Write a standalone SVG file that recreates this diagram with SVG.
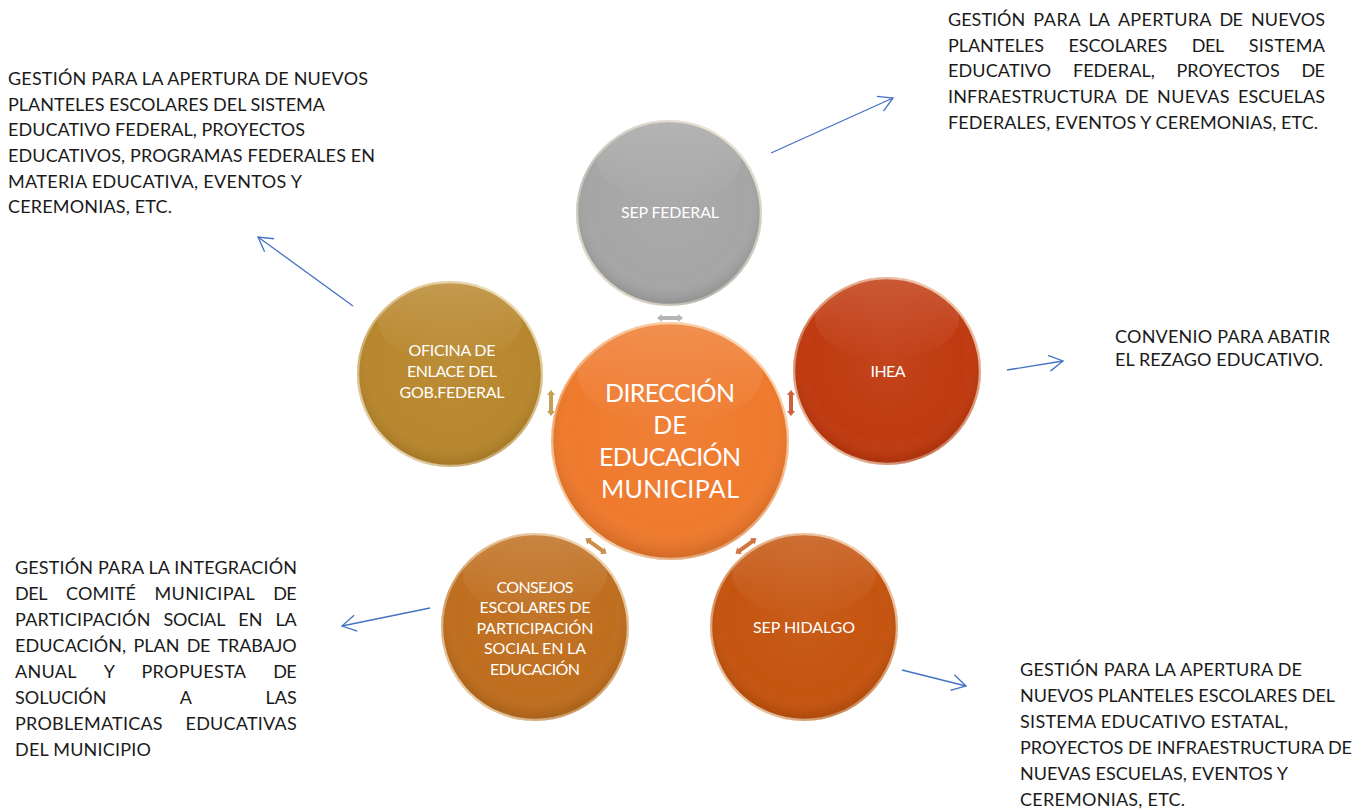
<svg xmlns="http://www.w3.org/2000/svg" width="1370" height="810" viewBox="0 0 1370 810">
<style>
.body{font-family:Lato,"Liberation Sans",sans-serif;font-size:18px;fill:#1a1a1a}
.lbl{font-family:Lato,"Liberation Sans",sans-serif;font-size:16px;fill:#ffffff;text-anchor:middle}
.big{font-family:Lato,"Liberation Sans",sans-serif;font-size:25px;fill:#ffffff;text-anchor:middle}
.arrow{fill:none;stroke:#4472C4;stroke-width:1.3;marker-end:url(#arr)}
.shade{fill:url(#shade)}
.hl{fill:url(#hl)}
.rim{fill:none;stroke:url(#rim);stroke-width:2.5}
</style>
<defs>
<marker id="arr" markerUnits="userSpaceOnUse" markerWidth="18" markerHeight="18" refX="16" refY="8" orient="auto" overflow="visible">
<path d="M2,0 L16,8 L2,16" fill="none" stroke="#4472C4" stroke-width="1.3"/>
</marker>
<radialGradient id="shade" cx="0.5" cy="0.45" r="0.55">
<stop offset="0" stop-color="#ffffff" stop-opacity="0.05"/>
<stop offset="0.75" stop-color="#ffffff" stop-opacity="0"/>
<stop offset="0.93" stop-color="#000000" stop-opacity="0.07"/>
<stop offset="1" stop-color="#000000" stop-opacity="0.14"/>
</radialGradient>
<linearGradient id="hl" x1="0" y1="0" x2="0" y2="1">
<stop offset="0" stop-color="#ffffff" stop-opacity="0.16"/>
<stop offset="1" stop-color="#ffffff" stop-opacity="0"/>
</linearGradient>
<linearGradient id="rim" x1="0" y1="1" x2="1" y2="0">
<stop offset="0" stop-color="#fff6e0" stop-opacity="0.95"/>
<stop offset="0.35" stop-color="#fff6e0" stop-opacity="0.35"/>
<stop offset="0.7" stop-color="#fff6e0" stop-opacity="0.55"/>
<stop offset="1" stop-color="#fff6e0" stop-opacity="0.85"/>
</linearGradient>
<polygon id="dbl" points="-13,0 -8,-4 -8,-2 8,-2 8,-4 13,0 8,4 8,2 -8,2 -8,4"/>
</defs>
<rect width="1370" height="810" fill="#ffffff"/>

<g id="connectors">
<line class="arrow" x1="771" y1="153" x2="893" y2="98"/>
<line class="arrow" x1="1007" y1="370" x2="1063" y2="361"/>
<line class="arrow" x1="353" y1="306" x2="258" y2="237"/>
<line class="arrow" x1="430" y1="608" x2="342" y2="626"/>
<line class="arrow" x1="902" y1="670" x2="966" y2="686"/>
<use href="#dbl" transform="translate(670,318)" fill="#a3a3a3" opacity="0.8"/>
<use href="#dbl" transform="translate(551,403) rotate(90)" fill="#b8872d" opacity="0.8"/>
<use href="#dbl" transform="translate(791,403) rotate(90)" fill="#c0390f" opacity="0.8"/>
<use href="#dbl" transform="translate(596,546) rotate(36)" fill="#c0701e" opacity="0.8"/>
<use href="#dbl" transform="translate(746,546) rotate(-36)" fill="#c5540f" opacity="0.8"/>
</g>

<g id="sep-federal">
<circle cx="669" cy="213" r="93" fill="#a6a6a6"/>
<circle class="shade" cx="669" cy="213" r="93"/>
<ellipse class="hl" cx="669" cy="160" rx="72" ry="42"/>
<circle class="rim" cx="669" cy="213" r="92"/>
<text class="lbl" x="670" y="218" textLength="98">SEP FEDERAL</text>
</g>

<g id="oficina-enlace">
<circle cx="450" cy="374" r="93" fill="#b8872d"/>
<circle class="shade" cx="450" cy="374" r="93"/>
<ellipse class="hl" cx="450" cy="321" rx="72" ry="42"/>
<circle class="rim" cx="450" cy="374" r="92"/>
<text class="lbl" x="452" y="356" textLength="87">OFICINA DE</text>
<text class="lbl" x="452" y="377" textLength="90">ENLACE DEL</text>
<text class="lbl" x="452" y="398" textLength="105">GOB.FEDERAL</text>
</g>

<g id="ihea">
<circle cx="887" cy="371" r="94" fill="#c03a10"/>
<circle class="shade" cx="887" cy="371" r="94"/>
<ellipse class="hl" cx="887" cy="318" rx="72" ry="42"/>
<circle class="rim" cx="887" cy="371" r="93"/>
<text class="lbl" x="888" y="377" textLength="35">IHEA</text>
</g>

<g id="consejos">
<circle cx="535" cy="627" r="94" fill="#bf6e1e"/>
<circle class="shade" cx="535" cy="627" r="94"/>
<ellipse class="hl" cx="535" cy="574" rx="72" ry="42"/>
<circle class="rim" cx="535" cy="627" r="93"/>
<text class="lbl" x="535" y="593" textLength="77">CONSEJOS</text>
<text class="lbl" x="535" y="613" textLength="111">ESCOLARES DE</text>
<text class="lbl" x="535" y="634" textLength="117">PARTICIPACIÓN</text>
<text class="lbl" x="535" y="654" textLength="102">SOCIAL EN LA</text>
<text class="lbl" x="535" y="675" textLength="90">EDUCACIÓN</text>
</g>

<g id="sep-hidalgo">
<circle cx="804" cy="627" r="94" fill="#c5540f"/>
<circle class="shade" cx="804" cy="627" r="94"/>
<ellipse class="hl" cx="804" cy="574" rx="72" ry="42"/>
<circle class="rim" cx="804" cy="627" r="93"/>
<text class="lbl" x="804" y="633" textLength="102">SEP HIDALGO</text>
</g>

<g id="direccion">
<circle cx="670" cy="441" r="119" fill="#ef7a2d"/>
<circle class="shade" cx="670" cy="441" r="119"/>
<ellipse class="hl" cx="670" cy="374" rx="92" ry="52"/>
<circle class="rim" cx="670" cy="441" r="118"/>
<text class="big" x="670" y="402" textLength="130">DIRECCIÓN</text>
<text class="big" x="670" y="434">DE</text>
<text class="big" x="670" y="466" textLength="142">EDUCACIÓN</text>
<text class="big" x="670" y="498" textLength="138">MUNICIPAL</text>
</g>

<g id="text-sep-federal">
<text class="body" x="948" y="26" textLength="77.3">GESTIÓN</text>
<text class="body" x="1033.3" y="26" textLength="47.3">PARA</text>
<text class="body" x="1088.6" y="26" textLength="21.3">LA</text>
<text class="body" x="1117.9" y="26" textLength="93.6">APERTURA</text>
<text class="body" x="1219.5" y="26" textLength="23.5">DE</text>
<text class="body" x="1251" y="26" textLength="74">NUEVOS</text>
<text class="body" x="948" y="52" textLength="96.1">PLANTELES</text>
<text class="body" x="1068.5" y="52" textLength="98.8">ESCOLARES</text>
<text class="body" x="1191.7" y="52" textLength="32.5">DEL</text>
<text class="body" x="1248.7" y="52" textLength="76.3">SISTEMA</text>
<text class="body" x="948" y="77" textLength="103.2">EDUCATIVO</text>
<text class="body" x="1072.9" y="77" textLength="81.9">FEDERAL,</text>
<text class="body" x="1176.5" y="77" textLength="103.2">PROYECTOS</text>
<text class="body" x="1301.5" y="77" textLength="23.5">DE</text>
<text class="body" x="948" y="103" textLength="168.6">INFRAESTRUCTURA</text>
<text class="body" x="1125.1" y="103" textLength="23.5">DE</text>
<text class="body" x="1157.1" y="103" textLength="72.4">NUEVAS</text>
<text class="body" x="1238" y="103" textLength="87">ESCUELAS</text>
<text class="body" x="948" y="129" textLength="370">FEDERALES, EVENTOS Y CEREMONIAS, ETC.</text>
</g>

<g id="text-oficina">
<text class="body" x="8" y="85" textLength="360">GESTIÓN PARA LA APERTURA DE NUEVOS</text>
<text class="body" x="8" y="110.7" textLength="317">PLANTELES ESCOLARES DEL SISTEMA</text>
<text class="body" x="8" y="136.3" textLength="297">EDUCATIVO FEDERAL, PROYECTOS</text>
<text class="body" x="8" y="162" textLength="367">EDUCATIVOS, PROGRAMAS FEDERALES EN</text>
<text class="body" x="8" y="187.6" textLength="294">MATERIA EDUCATIVA, EVENTOS Y</text>
<text class="body" x="8" y="213.3" textLength="164">CEREMONIAS, ETC.</text>
</g>

<g id="text-ihea">
<text class="body" x="1115" y="343" textLength="215">CONVENIO PARA ABATIR</text>
<text class="body" x="1115" y="366" textLength="208">EL REZAGO EDUCATIVO.</text>
</g>

<g id="text-consejos">
<text class="body" x="15" y="573.5" textLength="282">GESTIÓN PARA LA INTEGRACIÓN</text>
<text class="body" x="15" y="599.6" textLength="32.5">DEL</text>
<text class="body" x="66" y="599.6" textLength="69.9">COMITÉ</text>
<text class="body" x="154.4" y="599.6" textLength="100.4">MUNICIPAL</text>
<text class="body" x="273.2" y="599.6" textLength="23.5">DE</text>
<text class="body" x="15" y="625.7" textLength="135.5">PARTICIPACIÓN</text>
<text class="body" x="163.4" y="625.7" textLength="62">SOCIAL</text>
<text class="body" x="238.3" y="625.7" textLength="24.2">EN</text>
<text class="body" x="275.4" y="625.7" textLength="21.3">LA</text>
<text class="body" x="15" y="651.8" textLength="111.2">EDUCACIÓN,</text>
<text class="body" x="133.4" y="651.8" textLength="46.1">PLAN</text>
<text class="body" x="186.8" y="651.8" textLength="23.5">DE</text>
<text class="body" x="217.5" y="651.8" textLength="79.2">TRABAJO</text>
<text class="body" x="15" y="677.9" textLength="61.4">ANUAL</text>
<text class="body" x="103.7" y="677.9" textLength="10.4">Y</text>
<text class="body" x="141.4" y="677.9" textLength="104.6">PROPUESTA</text>
<text class="body" x="273.2" y="677.9" textLength="23.5">DE</text>
<text class="body" x="15" y="704" textLength="91.4">SOLUCIÓN</text>
<text class="body" x="179.8" y="704" textLength="12.4">A</text>
<text class="body" x="265.6" y="704" textLength="31.1">LAS</text>
<text class="body" x="15" y="730.1" textLength="147.6">PROBLEMATICAS</text>
<text class="body" x="185.5" y="730.1" textLength="111.2">EDUCATIVAS</text>
<text class="body" x="15" y="756.2" textLength="136">DEL MUNICIPIO</text>
</g>

<g id="text-sep-hidalgo">
<text class="body" x="1020" y="675.5" textLength="282">GESTIÓN PARA LA APERTURA DE</text>
<text class="body" x="1020" y="701.5" textLength="315">NUEVOS PLANTELES ESCOLARES DEL</text>
<text class="body" x="1020" y="727.5" textLength="268">SISTEMA EDUCATIVO ESTATAL,</text>
<text class="body" x="1020" y="753.5" textLength="332">PROYECTOS DE INFRAESTRUCTURA DE</text>
<text class="body" x="1020" y="779.5" textLength="268">NUEVAS ESCUELAS, EVENTOS Y</text>
<text class="body" x="1020" y="805.5" textLength="165">CEREMONIAS, ETC.</text>
</g>
</svg>
